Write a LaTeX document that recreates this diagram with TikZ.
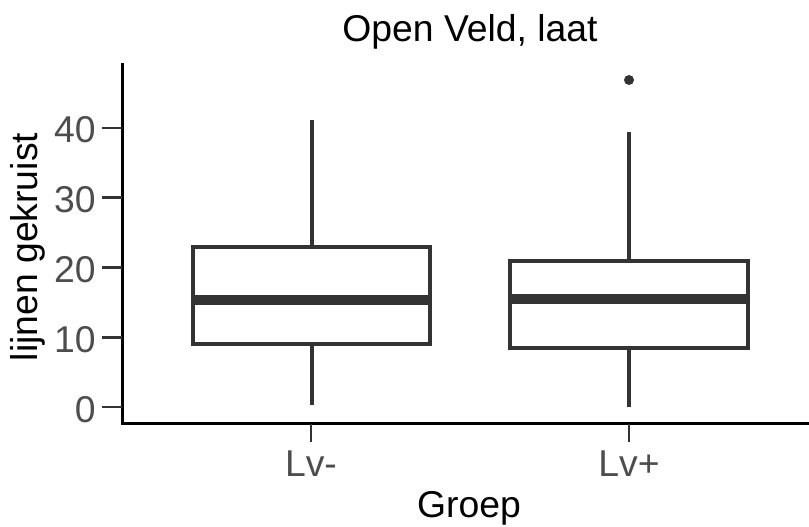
\documentclass[tikz,border=0pt]{standalone}
\usepackage{fontspec}
\setmainfont{Liberation Sans}
\definecolor{gray20}{HTML}{333333}
\definecolor{gray30}{HTML}{4D4D4D}
\begin{document}
\begin{tikzpicture}[x=0.75pt,y=-0.75pt,
  boxline/.style={draw=gray20,line width=3pt,fill=white},
  medianline/.style={draw=gray20,line width=7.5pt},
  whisker/.style={draw=gray20,line width=3pt},
  tickmark/.style={draw=gray20,line width=2.2pt},
  axisline/.style={draw=black,line width=2.4pt},
  ticklabel/.style={text=gray30,font=\fontsize{28}{28}\selectfont,inner sep=0pt},
  axistitle/.style={text=black,font=\fontsize{28}{28}\selectfont,inner sep=0pt}]
\useasboundingbox (0,0) rectangle (809,527);
% axes
\coordinate (ytop) at (122.5,63);
\coordinate (origin) at (122.5,423.5);
\coordinate (xend) at (809,423.5);
\draw[axisline] (ytop) -- (origin) -- (xend);
% y ticks
\foreach \v/\n in {0/t0,10/t10,20/t20,30/t30,40/t40}{
  \coordinate (\n a) at (102,{407-6.975*\v});
  \coordinate (\n b) at (122,{407-6.975*\v});
  \draw[tickmark] (\n a) -- (\n b);
  \node[ticklabel,anchor=base east] (\n lab) at (96,{407-6.975*\v+15}) {\v};
}
% x ticks
\coordinate (xa1) at (311,424); \coordinate (xb1) at (311,442);
\coordinate (xa2) at (629,424); \coordinate (xb2) at (629,442);
\draw[tickmark] (xa1) -- (xb1);
\draw[tickmark] (xa2) -- (xb2);
\node[ticklabel,anchor=base] (lvmin) at (311,476) {Lv-};
\node[ticklabel,anchor=base] (lvplus) at (629,476) {Lv+};
% box 1
\coordinate (w1t) at (311.5,120); \coordinate (w1q3) at (311.5,247);
\coordinate (w1q1) at (311.5,344); \coordinate (w1b) at (311.5,405);
\draw[whisker] (w1t) -- (w1q3);
\draw[whisker] (w1q1) -- (w1b);
\draw[boxline] (192.5,247) rectangle (430,344);
\coordinate (m1a) at (192.5,300); \coordinate (m1b) at (430,300);
\draw[medianline] (m1a) -- (m1b);
% box 2
\coordinate (w2t) at (629,132); \coordinate (w2q3) at (629,261);
\coordinate (w2q1) at (629,348); \coordinate (w2b) at (629,406.5);
\draw[whisker] (w2t) -- (w2q3);
\draw[whisker] (w2q1) -- (w2b);
\draw[boxline] (510,261) rectangle (748,348);
\coordinate (m2a) at (510,298.5); \coordinate (m2b) at (748,298.5);
\draw[medianline] (m2a) -- (m2b);
\fill[gray20] (629,80) circle (5);
% titles
\node[axistitle,anchor=base] (title) at (470,42) {Open Veld, laat};
\node[axistitle,anchor=base] (xtitle) at (469,517) {Groep};
\node[axistitle,anchor=base,rotate=90] (ytitle) at (37,247) {lijnen gekruist};
\end{tikzpicture}
\end{document}
